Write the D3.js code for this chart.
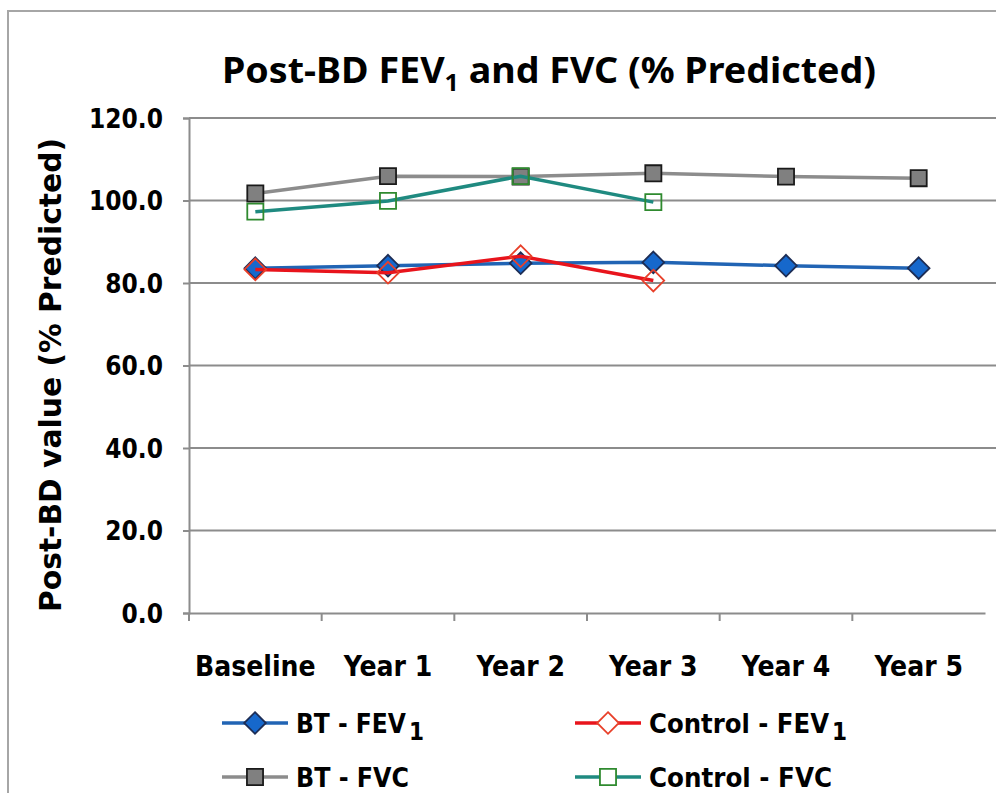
<!DOCTYPE html>
<html>
<head>
<meta charset="utf-8">
<script src="https://cdn.jsdelivr.net/npm/d3@7"></script>
<style>
  body { margin: 0; background: #fff; }
  text { fill: #000; }
</style>
</head>
<body>
<script>
width = 996;
height = 793;

// values
const categories = ["Baseline", "Year 1", "Year 2", "Year 3", "Year 4", "Year 5"];
const btFev1 = [83.6, 84.2, 84.8, 85.0, 84.2, 83.6];
const ctrlFev1 = [83.3, 82.5, 86.5, 80.6];
const btFvc = [101.7, 105.9, 105.8, 106.6, 105.8, 105.4];
const ctrlFvc = [97.3, 99.9, 105.9, 99.6];
const yTicks = [0, 20, 40, 60, 80, 100, 120];

const series = [
  {name: "BT - FEV", sub: "1", values: btFev1, line: "#2164b4", marker: "diamond", fill: "#1668cc", stroke: "#1d2d55", len: 110},
  {name: "Control - FEV", sub: "1", values: ctrlFev1, line: "#e8141c", marker: "diamond", fill: "none", stroke: "#e8402a", len: 180},
  {name: "BT - FVC", sub: "", values: btFvc, line: "#8c8c8c", marker: "square", fill: "#808080", stroke: "#1a1a1a", len: 113},
  {name: "Control - FVC", sub: "", values: ctrlFvc, line: "#1f8a80", marker: "square", fill: "none", stroke: "#2f8a2f", len: 183}
];

const svg = d3.select('body')
  .append('svg')
  .attr('width', width)
  .attr('height', height)
  .attr('viewBox', [0, 0, width, height]);

// outer chart border (cropped at right and bottom)
svg.append("rect")
  .attr("x", 8).attr("y", 11)
  .attr("width", 1100).attr("height", 900)
  .attr("fill", "none")
  .attr("stroke", "#a6a6a6")
  .attr("stroke-width", 2);

const x = d3.scaleBand()
  .domain(categories)
  .range([189, 985]);

const y = d3.scaleLinear()
  .domain([0, 120])
  .range([613, 118]);

const tickFont = "'DejaVu Sans Condensed', 'DejaVu Sans', sans-serif";

// gridlines
svg.append("g")
  .selectAll("line")
  .data(yTicks.filter(d => d > 0))
  .enter()
  .append("line")
  .attr("x1", 189).attr("x2", width)
  .attr("y1", d => y(d)).attr("y2", d => y(d))
  .attr("stroke", "#8c8c8c")
  .attr("stroke-width", 2);

// y axis
const yAxis = svg.append("g")
  .attr("transform", "translate(189,0)")
  .call(d3.axisLeft(y).tickValues(yTicks).tickFormat(d3.format(".1f")).tickSize(6).tickPadding(20));
yAxis.select(".domain").attr("stroke", "#8c8c8c").attr("stroke-width", 2);
yAxis.selectAll(".tick line").attr("stroke", "#8c8c8c").attr("stroke-width", 2);
yAxis.selectAll(".tick text")
  .attr("font-family", tickFont)
  .attr("font-weight", "bold")
  .attr("font-size", 26)
  .attr("dy", "0.36em");

// x axis
const xAxis = svg.append("g")
  .attr("transform", "translate(0,613)")
  .call(d3.axisBottom(x).tickSize(0).tickPadding(43));
xAxis.select(".domain").attr("stroke", "#8c8c8c").attr("stroke-width", 2);
xAxis.selectAll(".tick text")
  .attr("font-family", tickFont)
  .attr("font-weight", "bold")
  .attr("font-size", 28);
// category boundary ticks
svg.append("g")
  .selectAll("line")
  .data(categories)
  .enter()
  .append("line")
  .attr("x1", d => x(d)).attr("x2", d => x(d))
  .attr("y1", 613).attr("y2", 621)
  .attr("stroke", "#8c8c8c")
  .attr("stroke-width", 2);

// title
const title = svg.append("text")
  .attr("x", 549).attr("y", 83)
  .attr("text-anchor", "middle")
  .attr("font-family", "'Noto Sans', 'Open Sans', sans-serif")
  .attr("font-weight", "bold")
  .attr("font-size", 36)
  .attr("textLength", 654)
  .attr("lengthAdjust", "spacingAndGlyphs");
title.append("tspan").text("Post-BD FEV");
title.append("tspan").attr("dy", 8).attr("font-size", 24).text("1");
title.append("tspan").attr("dy", -8).text(" and FVC (% Predicted)");

// y axis title
svg.append("text")
  .attr("transform", "translate(61,375) rotate(-90)")
  .attr("text-anchor", "middle")
  .attr("font-family", tickFont)
  .attr("font-weight", "bold")
  .attr("font-size", 31)
  .attr("textLength", 474)
  .attr("lengthAdjust", "spacingAndGlyphs")
  .text("Post-BD value (% Predicted)");

const diamond = d3.symbol().type(d3.symbolDiamond2).size(300);
const square = d3.symbol().type(d3.symbolSquare2).size(330);

const line = d3.line()
  .x((d, i) => x(categories[i]) + x.bandwidth() / 2)
  .y(d => y(d));

// series
series.forEach(s => {
  const g = svg.append("g");
  g.append("path")
    .attr("d", line(s.values))
    .attr("fill", "none")
    .attr("stroke", s.line)
    .attr("stroke-width", 3.5);
  g.selectAll("path.mk")
    .data(s.values)
    .enter()
    .append("path")
    .attr("class", "mk")
    .attr("transform", (d, i) => `translate(${x(categories[i]) + x.bandwidth() / 2},${y(d)})`)
    .attr("d", s.marker === "diamond" ? diamond : square)
    .attr("fill", s.fill)
    .attr("stroke", s.stroke)
    .attr("stroke-width", 1.8);
});

// legend
const legendPos = [[222, 723], [575, 723], [222, 777], [575, 777]];
series.forEach((s, i) => {
  const [lx, ly] = legendPos[i];
  const g = svg.append("g").attr("transform", `translate(${lx},${ly})`);
  g.append("line")
    .attr("x1", 0).attr("x2", 66)
    .attr("stroke", s.line)
    .attr("stroke-width", 3.5);
  g.append("path")
    .attr("transform", "translate(33,0)")
    .attr("d", s.marker === "diamond" ? diamond : square)
    .attr("fill", s.fill === "none" ? "#fff" : s.fill)
    .attr("stroke", s.stroke)
    .attr("stroke-width", 1.8);
  g.append("text")
    .attr("x", 74)
    .attr("y", 10)
    .attr("font-family", tickFont)
    .attr("font-weight", "bold")
    .attr("font-size", 27)
    .attr("textLength", s.len)
    .attr("lengthAdjust", "spacingAndGlyphs")
    .text(s.name);
  if (s.sub) {
    g.append("text")
      .attr("x", 74 + s.len + 3)
      .attr("y", 17)
      .attr("font-family", tickFont)
      .attr("font-weight", "bold")
      .attr("font-size", 24)
      .text(s.sub);
  }
});
</script>
</body>
</html>
